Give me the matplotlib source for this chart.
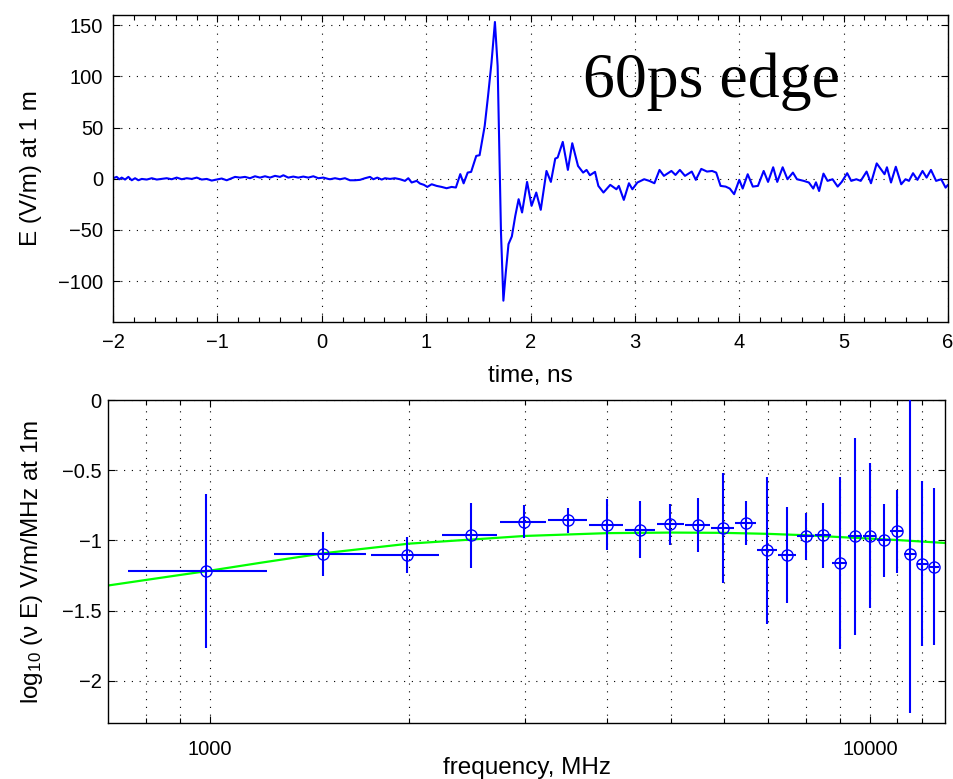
import matplotlib
matplotlib.use('Agg')
import matplotlib.pyplot as plt
from matplotlib.ticker import MultipleLocator, FixedLocator, NullFormatter, FuncFormatter

# ---- top panel: field waveform ----
time_ns = [
    -2.00, -1.965, -1.94, -1.917, -1.885, -1.853, -1.821, -1.789, -1.757, -1.725,
    -1.677, -1.629, -1.581, -1.534, -1.486, -1.438, -1.390, -1.342, -1.294, -1.246,
    -1.198, -1.150, -1.102, -1.055, -1.007, -0.959, -0.911, -0.863, -0.831, -0.784,
    -0.736, -0.688, -0.640, -0.592, -0.544, -0.496, -0.448, -0.400, -0.368, -0.321,
    -0.273, -0.225, -0.177, -0.129, -0.081, -0.033, 0.015, 0.062,
    0.079, 0.127, 0.175, 0.222, 0.270, 0.318, 0.366, 0.414, 0.462, 0.494,
    0.532, 0.574, 0.606, 0.654, 0.701, 0.749, 0.797, 0.829, 0.861, 0.909,
    0.941, 0.979, 1.011, 1.053, 1.100, 1.148, 1.196, 1.244, 1.285,
    1.327, 1.359, 1.398, 1.431, 1.480, 1.512, 1.561, 1.593, 1.626, 1.659,
    1.685, 1.701, 1.717, 1.740, 1.763, 1.789, 1.821, 1.854, 1.886, 1.919,
    1.967, 2.010, 2.055, 2.098, 2.153, 2.195, 2.237, 2.260, 2.309, 2.358,
    2.400, 2.455, 2.504, 2.537, 2.569, 2.618, 2.650, 2.699, 2.764, 2.823,
    2.846, 2.894, 2.943, 2.976, 3.024, 3.089, 3.138, 3.187, 3.236, 3.278,
    3.350, 3.389, 3.431, 3.480, 3.545, 3.584, 3.636, 3.691, 3.740, 3.779,
    3.821, 3.870, 3.909, 3.951, 4.000, 4.033, 4.081, 4.130, 4.179, 4.234,
    4.276, 4.325, 4.364, 4.416, 4.462, 4.514, 4.553, 4.618, 4.667, 4.709,
    4.735, 4.765, 4.807, 4.846, 4.894, 4.943, 4.982, 5.034, 5.073, 5.122,
    5.164, 5.220, 5.262, 5.317, 5.359, 5.392, 5.415, 5.454, 5.500, 5.552,
    5.593, 5.626, 5.665, 5.707, 5.756, 5.795, 5.837, 5.886, 5.935, 5.977,
    6.000,
]
e_field = [
    0.5, 1.8, -0.5, 1.1, -0.8, 1.8, -1.5, 0.5, -1.5, -0.2,
    -0.8, 0.5, -0.8, -0.2, 0.5, -0.5, 1.1, -0.5, 0.5, -0.2,
    1.1, -0.8, -0.2, -1.8, -0.8, 0.2, -1.5, 0.5, 1.8, 1.1,
    1.8, 0.5, 2.4, 1.1, 2.4, 1.1, 2.8, 1.8, 3.4, 1.1,
    2.1, 1.1, 2.1, 1.1, 2.4, 0.5, 1.1, -0.2,
    -0.5, 0.5, -0.5, 0.5, -1.5, -1.5, -1.1, 0.5, 1.8, -0.5,
    1.1, -0.8, 0.5, -0.2, 0.5, -0.5, -2.1, 0.5, -3.7, -2.1,
    -4.7, -6.0, -8.0, -5.4, -7.0, -8.0, -9.3, -8.0, -8.6,
    4.5, -4.5, 6.0, 6.7, 22.3, 23.0, 51.6, 80.9, 113.4, 153.2,
    110.1, 28.8, -52.5, -119.2, -91.6, -63.9, -56.4, -36.3, -20.0, -33.0,
    -3.1, -26.5, -13.5, -30.4, 7.6, -3.1, 19.7, 20.7, 36.0, 8.6,
    34.7, 12.5, 6.0, 8.6, 3.4, 6.7, -7.0, -13.5, -6.0, -10.3,
    -7.0, -20.7, -4.4, -10.3, -3.7, -0.5, -2.1, -4.4, 8.6, 2.8,
    7.6, 3.7, 8.6, 2.8, 7.0, -1.1, 9.6, 7.0, 7.6, 6.0,
    -7.0, -7.7, -9.6, -15.1, -1.1, -9.6, 4.4, -7.7, -7.0, 7.6,
    -3.1, 11.2, -3.1, 11.2, -0.5, 6.0, -0.5, -2.1, -3.7, -9.6,
    -3.5, -12.0, 5.0, -2.1, -0.5, -7.7, -3.1, 5.4, -2.1, -0.5,
    -2.1, 7.0, -4.4, 15.0, 9.0, 4.4, 11.2, -3.7, 11.7, -5.4,
    -0.5, -2.1, 5.4, -1.1, 7.6, 1.1, 8.6, -2.1, -0.5, -8.7,
    -6.0,
]

# ---- bottom panel: spectrum points ----
freq_mhz = [985, 1485, 1986, 2484, 2989, 3489, 3990, 4487, 4986, 5487,
            5988, 6490, 6985, 7489, 8000, 8497, 8995, 9489, 9998, 10503,
            10980, 11503, 12014, 12512]
log_ve = [-1.219, -1.094, -1.103, -0.964, -0.866, -0.857, -0.888, -0.923, -0.886, -0.888,
          -0.911, -0.876, -1.070, -1.101, -0.971, -0.964, -1.160, -0.971, -0.966, -0.999,
          -0.935, -1.094, -1.165, -1.188]
log_ve_err = [0.547, 0.156, 0.131, 0.229, 0.118, 0.089, 0.181, 0.201, 0.149, 0.192,
              0.390, 0.156, 0.522, 0.341, 0.166, 0.230, 0.611, 0.700, 0.517, 0.260,
              0.296, 1.136, 0.590, 0.558]
bin_half_width = 235  # MHz

# smooth model curve (green)
model_freq = [700, 800, 900, 1000, 1200, 1500, 2000, 2500, 3000, 4000,
              5000, 6000, 7000, 8000, 9000, 10000, 11000, 12000, 13000]
model_val = [-1.321, -1.281, -1.246, -1.215, -1.157, -1.089, -1.023, -0.993, -0.968, -0.948,
             -0.944, -0.946, -0.953, -0.963, -0.976, -0.987, -0.997, -1.008, -1.018]

GRID = dict(linestyle=(0, (1, 6)), color='k', lw=0.8)
TICK_FS = 14.5
LABEL_FS = 17.5


def style_axes(ax, xpad, ypad):
    ax.tick_params(which='both', direction='in', top=True, right=True,
                   labelsize=TICK_FS, width=0.8)
    ax.tick_params(which='major', length=5)
    ax.tick_params(which='minor', length=3.5)
    ax.tick_params(axis='x', pad=xpad)
    ax.tick_params(axis='y', pad=ypad)
    for sp in ax.spines.values():
        sp.set_linewidth(1.0)


def main():
    plt.rcParams['font.family'] = ['Liberation Sans', 'DejaVu Sans']
    plt.rcParams['mathtext.default'] = 'regular'

    fig = plt.figure(figsize=(9.54, 7.79), dpi=100)

    # top: waveform
    ax1 = fig.add_axes([0.1185, 0.5867, 0.8752, 0.394])
    ax1.plot(time_ns, e_field, color='#0000ff', lw=1.5,
             solid_joinstyle='round', solid_capstyle='round')
    ax1.set_xlim(-2, 6)
    ax1.set_ylim(-140, 160)
    ax1.xaxis.set_major_locator(MultipleLocator(1))
    ax1.xaxis.set_minor_locator(MultipleLocator(0.2))
    ax1.yaxis.set_major_locator(FixedLocator([-100, -50, 0, 50, 100, 150]))
    ax1.grid(True, which='major', **GRID)
    style_axes(ax1, xpad=8.0, ypad=7)
    ax1.set_xlabel('time, ns', fontsize=LABEL_FS)
    ax1.set_ylabel('E (V/m) at 1 m', fontsize=LABEL_FS)
    ax1.xaxis.set_label_coords(0.5, -0.14)
    ax1.yaxis.set_label_coords(-0.085, 0.5)
    ax1.text(2.50, 79.6, '60ps edge', family=['Liberation Serif', 'DejaVu Serif'],
             fontsize=46, ha='left', va='baseline')

    # bottom: spectrum
    ax2 = fig.add_axes([0.1132, 0.0719, 0.8774, 0.4146])
    ax2.set_xscale('log')
    ax2.plot(model_freq, model_val, color='#00ff00', lw=1.6, zorder=2)
    ax2.errorbar(freq_mhz, log_ve, xerr=bin_half_width, yerr=log_ve_err,
                 fmt='o', ms=8, mfc='none', mec='#0000ff', mew=1.0,
                 ecolor='#0000ff', elinewidth=1.5, capsize=0, zorder=3)
    ax2.set_xlim(700, 13000)
    ax2.set_ylim(-2.3, 0)
    ax2.xaxis.set_major_locator(FixedLocator([1000, 10000]))
    ax2.xaxis.set_major_formatter(FuncFormatter(lambda v, p: '%d' % v))
    minor = [800, 900] + [k * 1000 for k in range(2, 10)] + [11000, 12000]
    ax2.xaxis.set_minor_locator(FixedLocator(minor))
    ax2.xaxis.set_minor_formatter(NullFormatter())
    ax2.yaxis.set_major_locator(FixedLocator([-2, -1.5, -1, -0.5, 0]))
    ax2.yaxis.set_major_formatter(
        FuncFormatter(lambda v, p: ('%g' % v).replace('-', '\u2212')))
    ax2.grid(True, which='major', **GRID)
    ax2.grid(True, which='minor', axis='x', **GRID)
    style_axes(ax2, xpad=12.0, ypad=4.5)
    ax2.set_xlabel('frequency, MHz', fontsize=LABEL_FS)
    ax2.set_ylabel('log$_{10}$ (\u03bd E) V/m/MHz at 1m', fontsize=LABEL_FS)
    ax2.xaxis.set_label_coords(0.5, -0.105)
    ax2.yaxis.set_label_coords(-0.075, 0.5)

    fig.savefig('out.png', dpi=100)


if __name__ == "__main__":
    main()
